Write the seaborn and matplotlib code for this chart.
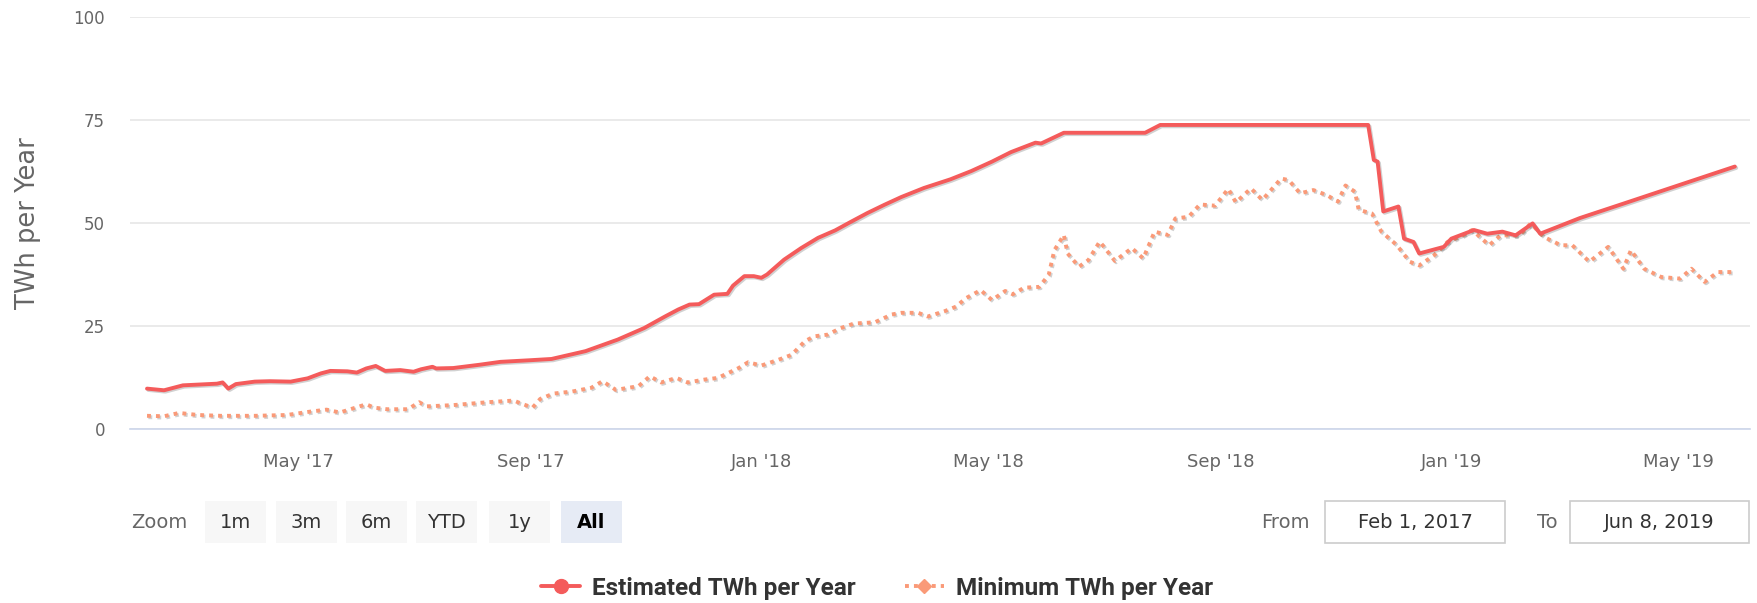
import pandas as pd
import matplotlib
matplotlib.use("Agg")
import matplotlib.pyplot as plt
import matplotlib.dates as mdates
import matplotlib.patheffects as pe
from matplotlib.lines import Line2D
from matplotlib.patches import Rectangle
import seaborn as sns

# Estimated TWh per Year
est_dates = ["2017-02-10", "2017-02-19", "2017-03-01", "2017-03-10", "2017-03-19", "2017-03-22",
             "2017-03-25", "2017-03-29", "2017-04-08", "2017-04-16", "2017-04-27", "2017-05-06",
             "2017-05-13", "2017-05-18", "2017-05-27", "2017-06-01", "2017-06-06", "2017-06-11",
             "2017-06-16", "2017-06-24", "2017-07-01", "2017-07-05", "2017-07-11", "2017-07-13",
             "2017-07-22", "2017-08-05", "2017-08-16", "2017-09-01", "2017-09-12", "2017-09-30",
             "2017-10-17", "2017-10-31", "2017-11-11", "2017-11-18", "2017-11-24", "2017-11-29",
             "2017-12-07", "2017-12-14", "2017-12-17", "2017-12-23", "2017-12-28", "2018-01-01",
             "2018-01-04", "2018-01-13", "2018-01-22", "2018-01-31", "2018-02-09", "2018-02-17",
             "2018-02-26", "2018-03-07", "2018-03-16", "2018-03-28", "2018-04-11", "2018-04-22",
             "2018-05-03", "2018-05-13", "2018-05-26", "2018-05-29", "2018-06-10", "2018-07-23",
             "2018-07-31", "2018-11-18", "2018-11-21", "2018-11-23", "2018-11-26", "2018-12-04",
             "2018-12-07", "2018-12-12", "2018-12-15", "2018-12-28", "2019-01-01", "2019-01-13",
             "2019-01-20", "2019-01-28", "2019-02-04", "2019-02-13", "2019-02-17", "2019-03-10",
             "2019-04-04", "2019-05-31"]
est_vals = [9.8, 9.4, 10.6, 10.8, 11.0, 11.3,
            9.8, 10.9, 11.5, 11.6, 11.5, 12.3,
            13.5, 14.1, 14.0, 13.7, 14.7, 15.3,
            14.1, 14.3, 13.9, 14.5, 15.1, 14.7,
            14.8, 15.6, 16.3, 16.7, 17.0, 18.9,
            21.7, 24.5, 27.3, 29.0, 30.2, 30.3,
            32.6, 32.8, 34.8, 37.1, 37.1, 36.7,
            37.5, 41.1, 43.9, 46.4, 48.2, 50.2,
            52.4, 54.4, 56.3, 58.5, 60.6, 62.6,
            64.9, 67.2, 69.5, 69.3, 71.9, 71.9,
            73.8, 73.8, 65.3, 64.9, 52.8, 54.0,
            46.2, 45.4, 42.6, 44.2, 46.2, 48.3,
            47.4, 47.9, 47.0, 49.9, 47.4, 51.2,
            55.0, 63.7]

# Minimum TWh per Year
min_dates = ["2017-02-10", "2017-02-19", "2017-02-27", "2017-03-09", "2017-03-21", "2017-04-08",
             "2017-04-25", "2017-05-07", "2017-05-16", "2017-05-23", "2017-05-30", "2017-06-06",
             "2017-06-10", "2017-06-17", "2017-06-28", "2017-07-04", "2017-07-08", "2017-07-22",
             "2017-08-09", "2017-08-23", "2017-08-28", "2017-09-02", "2017-09-06", "2017-09-13",
             "2017-09-23", "2017-10-03", "2017-10-09", "2017-10-16", "2017-10-28", "2017-11-03",
             "2017-11-09", "2017-11-17", "2017-11-23", "2017-12-02", "2017-12-09", "2017-12-20",
             "2017-12-25", "2018-01-01", "2018-01-10", "2018-01-17", "2018-01-24", "2018-01-29",
             "2018-02-05", "2018-02-12", "2018-02-19", "2018-03-02", "2018-03-11", "2018-03-16",
             "2018-03-25", "2018-03-30", "2018-04-08", "2018-04-14", "2018-04-19", "2018-04-27",
             "2018-05-03", "2018-05-10", "2018-05-14", "2018-05-20", "2018-05-28", "2018-06-02",
             "2018-06-05", "2018-06-10", "2018-06-12", "2018-06-18", "2018-06-23", "2018-06-29",
             "2018-07-07", "2018-07-16", "2018-07-22", "2018-07-28", "2018-08-04", "2018-08-08",
             "2018-08-15", "2018-08-21", "2018-08-29", "2018-09-05", "2018-09-09", "2018-09-17",
             "2018-09-23", "2018-10-03", "2018-10-07", "2018-10-13", "2018-10-20", "2018-10-27",
             "2018-11-02", "2018-11-06", "2018-11-11", "2018-11-13", "2018-11-20", "2018-11-25",
             "2018-12-03", "2018-12-10", "2018-12-15", "2018-12-23", "2018-12-30", "2019-01-07",
             "2019-01-12", "2019-01-21", "2019-01-27", "2019-02-06", "2019-02-12", "2019-02-19",
             "2019-02-28", "2019-03-06", "2019-03-15", "2019-03-25", "2019-04-02", "2019-04-06",
             "2019-04-13", "2019-04-22", "2019-05-02", "2019-05-08", "2019-05-15", "2019-05-22",
             "2019-05-31"]
min_vals = [3.2, 3.1, 3.9, 3.4, 3.2, 3.2,
            3.4, 4.2, 4.7, 4.0, 5.0, 6.0,
            5.2, 4.8, 4.8, 6.5, 5.5, 5.8,
            6.5, 6.9, 6.0, 5.2, 7.3, 8.6,
            9.1, 10.0, 11.6, 9.5, 10.4, 12.8,
            11.3, 12.4, 11.3, 12.0, 12.4, 14.8,
            16.2, 15.4, 16.8, 18.0, 21.3, 22.5,
            22.9, 24.5, 25.6, 25.9, 27.8, 28.2,
            28.2, 27.3, 28.6, 29.7, 31.7, 33.7,
            31.3, 33.5, 32.7, 34.3, 34.5, 37.4,
            43.4, 47.1, 42.6, 39.4, 41.0, 45.5,
            40.8, 43.9, 41.4, 47.9, 47.1, 51.1,
            51.5, 54.5, 54.2, 58.3, 55.0, 58.4,
            55.6, 60.8, 60.4, 57.2, 58.0, 56.8,
            55.2, 59.1, 57.6, 53.2, 52.3, 47.9,
            44.7, 40.6, 39.7, 42.2, 45.4, 47.0,
            48.3, 44.6, 47.0, 47.0, 49.9, 46.6,
            44.6, 44.6, 40.6, 44.2, 38.9, 43.4,
            38.9, 36.9, 36.5, 38.9, 35.7, 38.1,
            38.1]

zoom_buttons = ["1m", "3m", "6m", "YTD", "1y", "All"]
range_from = "Feb 1, 2017"
range_to = "Jun 8, 2019"

est = pd.DataFrame({"date": pd.to_datetime(est_dates), "twh": est_vals})
mn = pd.DataFrame({"date": pd.to_datetime(min_dates), "twh": min_vals})

RED = "#f45b5b"
SALMON = "#fa9a78"
GREY = "#666666"

sns.set_style("white")
plt.rcParams["font.family"] = ["DejaVu Sans"]

W, H = 1758, 603
fig = plt.figure(figsize=(W / 100, H / 100), dpi=100)
ax = fig.add_axes([130 / W, 1 - 429 / H, (1750 - 130) / W, (429 - 17) / H])

shadow = [pe.SimpleLineShadow(offset=(1, -1), shadow_color="black", alpha=0.18), pe.Normal()]

sns.lineplot(data=mn, x="date", y="twh", ax=ax, color=SALMON, lw=2.8,
             linestyle=(0, (1, 1.3)), path_effects=shadow)
sns.lineplot(data=est, x="date", y="twh", ax=ax, color=RED, lw=2.8,
             path_effects=shadow)

ax.set_xlim(pd.Timestamp("2017-02-01"), pd.Timestamp("2019-06-08"))
ax.set_ylim(0, 100)
ax.set_yticks([0, 25, 50, 75, 100])
ax.yaxis.grid(True, color="#e6e6e6", lw=1.2)
ax.xaxis.grid(False)
for s in ["top", "right", "left"]:
    ax.spines[s].set_visible(False)
ax.spines["bottom"].set_color("#ccd6eb")
ax.spines["bottom"].set_linewidth(1.2)

ax.xaxis.set_major_locator(mdates.MonthLocator(bymonth=[1, 5, 9]))
ax.xaxis.set_major_formatter(mdates.DateFormatter("%b '%y"))
ax.tick_params(axis="x", length=9, width=1.2, color="#ccd6eb", labelcolor=GREY,
               labelsize=13, pad=8)
ax.tick_params(axis="y", length=0, labelcolor=GREY, labelsize=12, pad=18)
ax.set_xlabel("")
ax.set_ylabel("TWh per Year", color=GREY, fontsize=18.5, labelpad=23)

# range selector row
fs = 14
fig.text(131 / W, 1 - 522 / H, "Zoom", color=GREY, fontsize=fs, va="center", ha="left")
bx = [205, 276, 346, 416, 489, 561]
for lbl, x0 in zip(zoom_buttons, bx):
    sel = lbl == "All"
    fig.patches.append(Rectangle((x0 / W, 1 - 543 / H), 61 / W, 42 / H, transform=fig.transFigure,
                                 facecolor="#e6ebf5" if sel else "#f7f7f7", edgecolor="none"))
    fig.text((x0 + 30.5) / W, 1 - 522 / H, lbl, color="black" if sel else "#333333",
             fontsize=fs, fontweight="bold" if sel else "normal", ha="center", va="center")

fig.text(1310 / W, 1 - 522 / H, "From", color=GREY, fontsize=fs, ha="right", va="center")
fig.text(1558 / W, 1 - 522 / H, "To", color=GREY, fontsize=fs, ha="right", va="center")
for txt, x0, x1 in [(range_from, 1325, 1505), (range_to, 1570, 1749)]:
    fig.patches.append(Rectangle((x0 / W, 1 - 543 / H), (x1 - x0) / W, 42 / H, transform=fig.transFigure,
                                 facecolor="white", edgecolor="#cccccc", lw=1.2))
    fig.text((x0 + x1) / 2 / W, 1 - 522 / H, txt, color="#333333", fontsize=fs,
             ha="center", va="center")

handles = [Line2D([], [], color=RED, lw=2.8, marker="o", markersize=10),
           Line2D([], [], color=SALMON, lw=2.8, linestyle=(0, (1, 1.3)), marker="D", markersize=7.5)]
fig.legend(handles, ["Estimated TWh per Year", "Minimum TWh per Year"], loc="center",
           bbox_to_anchor=(0.499, 1 - 588 / H), ncol=2, frameon=False, handlelength=1.6,
           handletextpad=0.5, columnspacing=2.0,
           prop={"family": "Roboto", "weight": "bold", "size": 17.5},
           labelcolor="#333333")

fig.savefig("out.png", dpi=100)
